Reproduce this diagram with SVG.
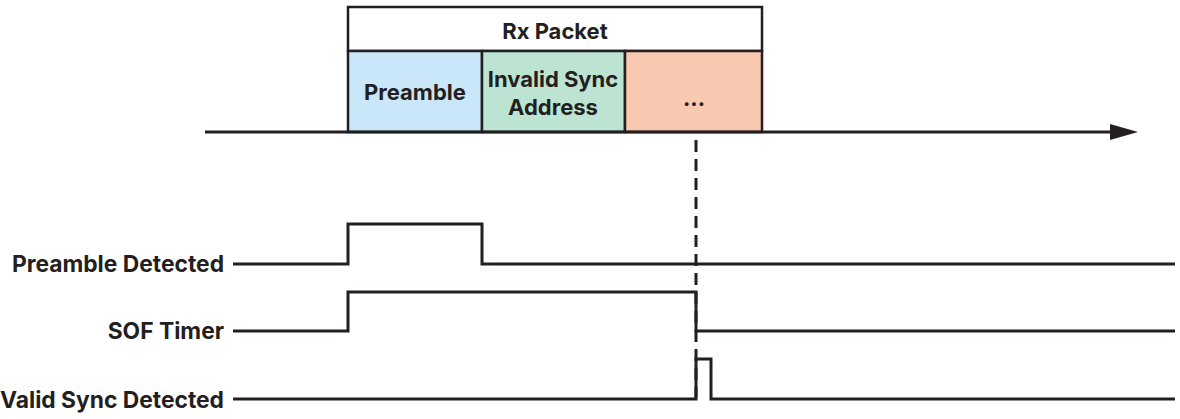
<svg xmlns="http://www.w3.org/2000/svg" width="1180" height="419" viewBox="0 0 1180 419">
<style>
.t{font-family:Inter,"Liberation Sans",sans-serif;font-weight:700;font-size:22px;fill:#231f20}
.l{font-size:22.8px}
.c{stroke:#231f20;stroke-width:2.5}
.w{fill:none;stroke:#231f20;stroke-width:3}
</style>
<defs>
<marker id="ah" viewBox="0 0 28 16" refX="0" refY="8" markerWidth="28" markerHeight="16" markerUnits="userSpaceOnUse" orient="auto">
<path d="M0,0 L28,8 L0,16 Z" fill="#231f20"/>
</marker>
</defs>
<rect width="1180" height="419" fill="#fff"/>
<g id="rx-packet">
<rect class="c" x="348" y="7" width="414" height="44" fill="#fff"/>
<text class="t" x="555" y="39" text-anchor="middle">Rx Packet</text>
</g>
<g id="preamble">
<rect class="c" x="348" y="51" width="134" height="81" fill="#c9e7f8"/>
<text class="t" x="415" y="100" text-anchor="middle">Preamble</text>
</g>
<g id="invalid-sync">
<rect class="c" x="482" y="51" width="143" height="81" fill="#bde4d3"/>
<text class="t" x="553" y="87" text-anchor="middle">Invalid Sync</text>
<text class="t" x="553" y="115" text-anchor="middle">Address</text>
</g>
<g id="rest">
<rect class="c" x="625" y="51" width="137" height="81" fill="#f9c8b1"/>
<text class="t" x="694" y="106" text-anchor="middle">...</text>
</g>
<g id="labels">
<text class="t l" x="224" y="272" text-anchor="end">Preamble Detected</text>
<text class="t l" x="224" y="339" text-anchor="end">SOF Timer</text>
<text class="t l" x="224" y="408" text-anchor="end">Valid Sync Detected</text>
</g>
<g id="connectors">
<line class="w" x1="205" y1="132" x2="1110" y2="132" marker-end="url(#ah)"/>
<line x1="696" y1="140" x2="696" y2="398" stroke="#231f20" stroke-width="3" stroke-dasharray="12,7"/>
<polyline class="w" points="233,264 348,264 348,224 482,224 482,264 1175,264"/>
<polyline class="w" points="233,331 348,331 348,292 696,292 696,331 1175,331"/>
<polyline class="w" points="233,399 696,399 696,359 711,359 711,399 1175,399"/>
</g>
</svg>
